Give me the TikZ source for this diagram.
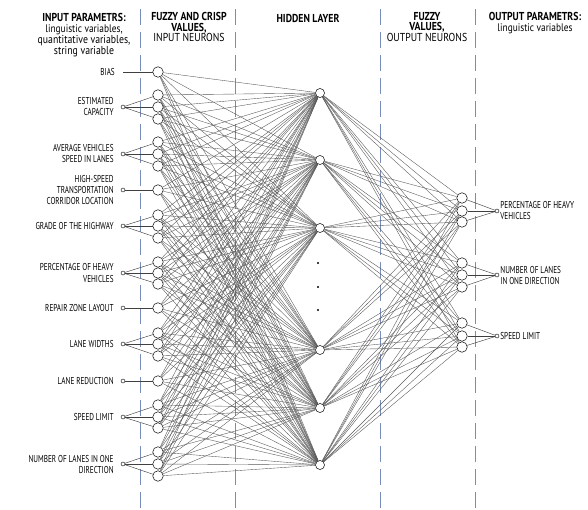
\documentclass[tikz,border=0pt]{standalone}
\usepackage{fontspec}
\setmainfont[FakeStretch=0.72]{PT Sans}
\newfontfamily\headfont[FakeStretch=0.85]{PT Sans}
\usetikzlibrary{positioning}
\definecolor{guidecol}{RGB}{120,140,185}

\begin{document}
\begin{tikzpicture}[x=1pt, y=-1pt,
    neuron/.style={circle, draw, fill=white, inner sep=0pt, minimum size=10.5pt, line width=0.5pt},
    port/.style={circle, draw, fill=white, inner sep=0pt, minimum size=4pt, line width=0.4pt},
    link/.style={black!65, line width=0.38pt},
    feed/.style={black!75, line width=0.45pt},
    guide/.style={draw=guidecol, line width=0.6pt, dash pattern=on 16pt off 7pt},
    param/.style={font=\fontsize{10}{11}\selectfont, inner sep=1pt},
    header/.style={font=\headfont\fontsize{11.5}{10.8}\selectfont, align=center, inner sep=0pt}]
        \clip (0,0) rectangle (588,510);
        % Column separators
        \foreach \x in {140,235,380,475}
            \draw[guide] (\x,9) -- (\x,510);
        % Headers
        \node[header] (h1) at (84,35) {{\bfseries INPUT PARAMETRS:}\\\fontsize{11}{10.8}\selectfont linguistic variables,\\quantitative variables,\\string variable};
        \node[header] (h2) at (189,27) {{\bfseries FUZZY AND CRISP}\\{\bfseries VALUES,}\\INPUT NEURONS};
        \node[header] (h3) at (308,18) {\bfseries HIDDEN LAYER};
        \node[header] (h4) at (427,27) {{\bfseries FUZZY}\\{\bfseries VALUES,}\\OUTPUT NEURONS};
        \node[header] (h5) at (535,23) {{\bfseries OUTPUT PARAMETRS:}\\\fontsize{11}{10.8}\selectfont linguistic variables};
        % Input neurons
        \foreach \y [count=\i] in {72,95,107,119,142,154,166,190,215,226,238,262,273,284,308,333,344,356,381,405,417,428,452,464,476}
            \node[neuron] (I\i) at (158,\y) {};
        % Hidden neurons
        \foreach \y [count=\j] in {93,160,228,350,408,465}
            \node[neuron, minimum size=9pt] (H\j) at (320,\y) {};
        \foreach \y in {263,287,310}
            \fill (318,\y) circle (1.2pt);
        % Output neurons
        \foreach \y [count=\k] in {198,211,222,263,275,287,323,336,347}
            \node[neuron] (O\k) at (462,\y) {};
        % Edges input -> hidden -> output
        \foreach \i in {1,...,25}
            \foreach \j in {1,...,6}
                \draw[link] (I\i) -- (H\j);
        \foreach \j in {1,...,6}
            \foreach \k in {1,...,9}
                \draw[link] (H\j) -- (O\k);
        % Input parameters
        \coordinate (P1) at (123,72);
        \node[port] (P2) at (123,107) {};
        \node[port] (P3) at (123,154) {};
        \node[port] (P4) at (123,190) {};
        \node[port] (P5) at (123,226) {};
        \node[port] (P6) at (123,273) {};
        \node[port] (P7) at (123,308) {};
        \node[port] (P8) at (123,344) {};
        \node[port] (P9) at (123,381) {};
        \node[port] (P10) at (123,417) {};
        \node[port] (P11) at (123,464) {};
        \node[param, left=7pt of P1] (L1) {BIAS};
        \node[param, align=right, left=6pt of P2] (L2) {ESTIMATED\\CAPACITY};
        \node[param, align=right, left=6pt of P3] (L3) {AVERAGE VEHICLES\\SPEED IN LANES};
        \node[param, align=right, left=6pt of P4] (L4) {HIGH-SPEED\\TRANSPORTATION\\CORRIDOR LOCATION};
        \node[param, left=6pt of P5] (L5) {GRADE OF THE HIGHWAY};
        \node[param, align=right, left=6pt of P6] (L6) {PERCENTAGE OF HEAVY\\VEHICLES};
        \node[param, left=6pt of P7] (L7) {REPAIR ZONE LAYOUT};
        \node[param, left=6pt of P8] (L8) {LANE WIDTHS};
        \node[param, left=6pt of P9] (L9) {LANE REDUCTION};
        \node[param, left=6pt of P10] (L10) {SPEED LIMIT};
        \node[param, align=right, left=6pt of P11] (L11) {NUMBER OF LANES IN ONE\\DIRECTION};
        \draw[feed] (P1) -- (I1);
        \foreach \i in {2,3,4} \draw[feed] (P2) -- (I\i);
        \foreach \i in {5,6,7} \draw[feed] (P3) -- (I\i);
        \draw[feed] (P4) -- (I8);
        \foreach \i in {9,10,11} \draw[feed] (P5) -- (I\i);
        \foreach \i in {12,13,14} \draw[feed] (P6) -- (I\i);
        \draw[feed] (P7) -- (I15);
        \foreach \i in {16,17,18} \draw[feed] (P8) -- (I\i);
        \draw[feed] (P9) -- (I19);
        \foreach \i in {20,21,22} \draw[feed] (P10) -- (I\i);
        \foreach \i in {23,24,25} \draw[feed] (P11) -- (I\i);
        % Output parameters
        \node[port] (Q1) at (497,211) {};
        \node[port] (Q2) at (497,275) {};
        \node[port] (Q3) at (497,336) {};
        \node[param, align=left, right=0pt of Q1] (R1) {PERCENTAGE OF HEAVY\\VEHICLES};
        \node[param, align=left, right=0pt of Q2] (R2) {NUMBER OF LANES\\IN ONE DIRECTION};
        \node[param, right=0pt of Q3] (R3) {SPEED LIMIT};
        \foreach \k in {1,2,3} \draw[feed] (O\k) -- (Q1);
        \foreach \k in {4,5,6} \draw[feed] (O\k) -- (Q2);
        \foreach \k in {7,8,9} \draw[feed] (O\k) -- (Q3);
\end{tikzpicture}
\end{document}
